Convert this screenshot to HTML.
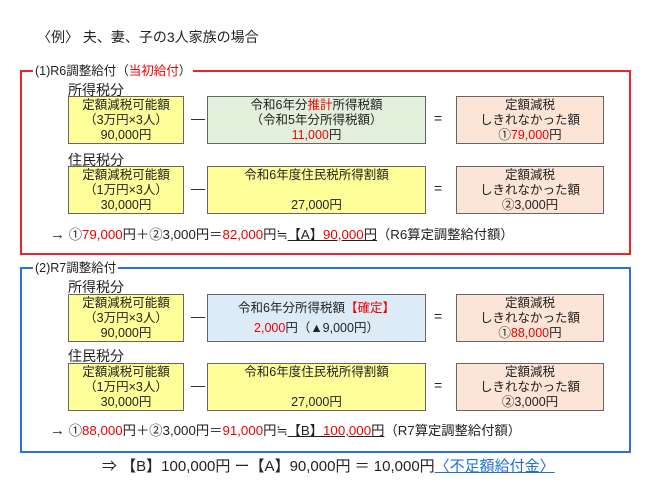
<!DOCTYPE html>
<html><head><meta charset="utf-8"><style>
body{margin:0;width:650px;height:494px;background:#fff;position:relative;overflow:hidden;font-family:"Liberation Sans","Noto Sans CJK JP",sans-serif;color:#222}
.a{position:absolute;white-space:nowrap}
.frame{position:absolute;border:2px solid}
.lbl{position:absolute;background:#fff;font-size:12.5px;padding:0 2px;line-height:14px}
.box{position:absolute;border:1px solid #666;box-sizing:border-box;font-size:12.5px;line-height:15px;text-align:center;display:flex;flex-direction:column;justify-content:center}
.y{background:#ffff99}.g{background:#e2efda}.p{background:#fce4d6}.b{background:#ddebf7}
.r{color:#e00}
.h{font-size:14px}
.op{position:absolute;font-size:14px}
.t{font-size:13.3px}
</style></head><body>
<div class="a" style="left:37px;top:27px;font-size:14px">〈例〉 夫、妻、子の3人家族の場合</div>

<div class="frame" style="left:20px;top:70px;width:607px;height:181px;border-color:#e8242c"></div>
<div class="lbl" style="left:33px;top:64px">(1)R6調整給付（<span class="r">当初給付</span>）</div>
<div class="a h" style="left:68px;top:80px">所得税分</div>
<div class="box y" style="left:68px;top:96px;width:116px;height:48px"><div>定額減税可能額</div><div>（3万円×3人）</div><div>90,000円</div></div>
<div class="op" style="left:191px;top:110px">—</div>
<div class="box g" style="left:207px;top:96px;width:219px;height:48px"><div>令和6年分<span class="r">推計</span>所得税額</div><div>（令和5年分所得税額）</div><div><span class="r">11,000</span>円</div></div>
<div class="op" style="left:434px;top:110px">=</div>
<div class="box p" style="left:456px;top:96px;width:148px;height:48px"><div>定額減税</div><div>しきれなかった額</div><div>①<span class="r">79,000</span>円</div></div>
<div class="a h" style="left:68px;top:150px">住民税分</div>
<div class="box y" style="left:68px;top:166px;width:116px;height:48px"><div>定額減税可能額</div><div>（1万円×3人）</div><div>30,000円</div></div>
<div class="op" style="left:191px;top:180px">—</div>
<div class="box y" style="left:207px;top:166px;width:219px;height:48px"><div>令和6年度住民税所得割額</div><div>&nbsp;</div><div>27,000円</div></div>
<div class="op" style="left:434px;top:180px">=</div>
<div class="box p" style="left:456px;top:166px;width:148px;height:48px"><div>定額減税</div><div>しきれなかった額</div><div>②3,000円</div></div>
<div class="a t" style="left:50px;top:224px"><span style="font-size:15px">→</span> ①<span class="r">79,000</span>円＋②3,000円＝<span class="r">82,000</span>円≒<span style="text-decoration:underline">【A】<span class="r">90,000</span>円</span>（R6算定調整給付額）</div>

<div class="frame" style="left:20px;top:267px;width:607px;height:182px;border-color:#2f6fe0"></div>
<div class="lbl" style="left:33px;top:261px">(2)R7調整給付</div>
<div class="a h" style="left:68px;top:277px">所得税分</div>
<div class="box y" style="left:68px;top:294px;width:116px;height:48px"><div>定額減税可能額</div><div>（3万円×3人）</div><div>90,000円</div></div>
<div class="op" style="left:191px;top:308px">—</div>
<div class="box b" style="left:207px;top:294px;width:219px;height:48px"><div>令和6年分所得税額<span class="r">【確定】</span></div><div style="height:5px"></div><div><span class="r">2,000</span>円（▲9,000円）</div></div>
<div class="op" style="left:434px;top:308px">=</div>
<div class="box p" style="left:456px;top:294px;width:148px;height:48px"><div>定額減税</div><div>しきれなかった額</div><div>①<span class="r">88,000</span>円</div></div>
<div class="a h" style="left:68px;top:346px">住民税分</div>
<div class="box y" style="left:68px;top:363px;width:116px;height:48px"><div>定額減税可能額</div><div>（1万円×3人）</div><div>30,000円</div></div>
<div class="op" style="left:191px;top:377px">—</div>
<div class="box y" style="left:207px;top:363px;width:219px;height:48px"><div>令和6年度住民税所得割額</div><div>&nbsp;</div><div>27,000円</div></div>
<div class="op" style="left:434px;top:377px">=</div>
<div class="box p" style="left:456px;top:363px;width:148px;height:48px"><div>定額減税</div><div>しきれなかった額</div><div>②3,000円</div></div>
<div class="a t" style="left:50px;top:420px"><span style="font-size:15px">→</span> ①<span class="r">88,000</span>円＋②3,000円＝<span class="r">91,000</span>円≒<span style="text-decoration:underline">【B】<span class="r">100,000</span>円</span>（R7算定調整給付額）</div>

<div class="a" style="left:102px;top:455px;font-size:15px">⇒ 【B】100,000円 ー【A】90,000円 ＝ 10,000円<span style="color:#1f6fd0;text-decoration:underline">〈不足額給付金〉</span></div>
</body></html>
